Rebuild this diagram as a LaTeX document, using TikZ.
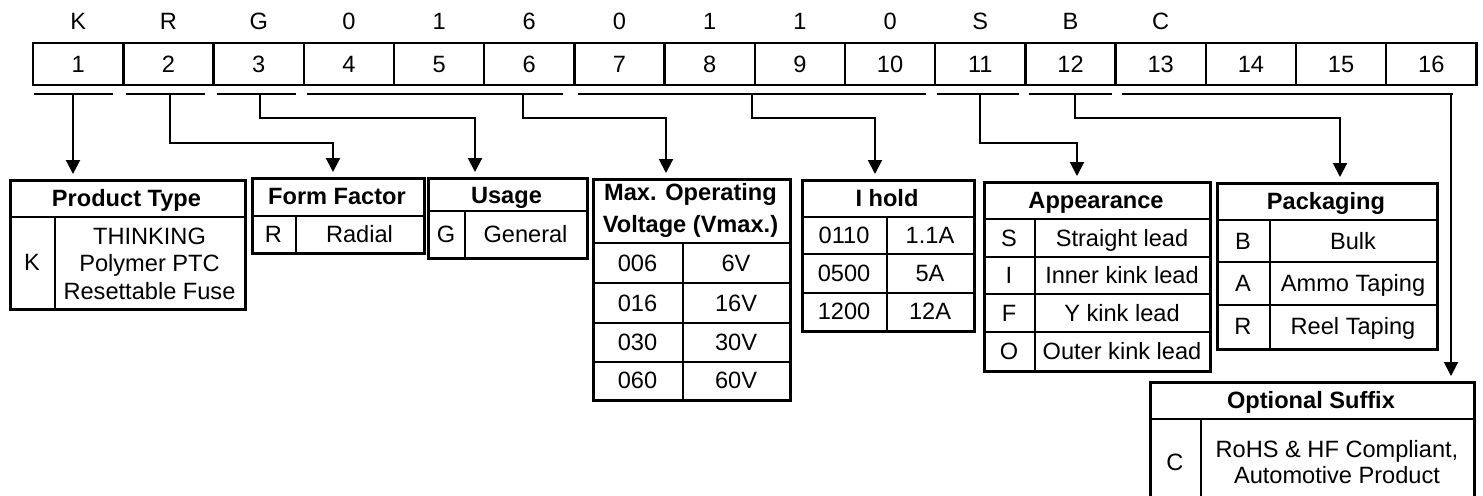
\documentclass[tikz,border=0pt]{standalone}
\usepackage{fontspec}
\setmainfont{Liberation Sans}
\usetikzlibrary{arrows.meta}
\begin{document}
\begin{tikzpicture}[x=0.5pt,y=-0.5pt,
  t/.style={font=\fontsize{11.8}{14}\selectfont,inner sep=0pt,text height=8.45pt,text depth=0pt},
  th/.style={t,font=\fontsize{11.8}{14}\selectfont\bfseries},
  cell/.style={t,draw,line width=1.2pt,minimum width=45.1pt,minimum height=21pt,anchor=north west},
  tbl/.style={draw,line width=1.4pt,inner sep=0pt,anchor=north west},
  grid/.style={line width=1pt},
  seg/.style={line width=1pt},
  conn/.style={line width=1pt},
  arr/.style={conn,-{Triangle[width=7pt,length=7pt]},shorten >=2.5pt}
]
\useasboundingbox (0,0) rectangle (1483,495);
\clip (0,0) rectangle (1483,495);

% top row
\foreach \i in {1,...,16} {
  \node[cell] (c\i) at ({32+90.2*(\i-1)},42) {\i};
}
\foreach \i/\l in {1/K,2/R,3/G,4/0,5/1,6/6,7/0,8/1,9/1,10/0,11/S,12/B,13/C} {
  \node[t] (l\i) at (c\i.center |- 0,21) {\l};
}

% underline segments
\draw[seg] (34,94) -- (113,94);
\draw[seg] (126,94) -- (205,94);
\draw[seg] (217,94) -- (296,94);
\draw[seg] (307,94) -- (563,94);
\draw[seg] (578,94) -- (926,94);
\draw[seg] (937,94) -- (1019,94);
\draw[seg] (1029,94) -- (1112,94);
\draw[seg] (1122,94) -- (1453,94);
\coordinate (u1) at (73,94);
\coordinate (u2) at (170,94);
\coordinate (u3) at (260,94);
\coordinate (u4) at (523,94);
\coordinate (u5) at (752,94);
\coordinate (u6) at (980,94);
\coordinate (u7) at (1075,94);
\coordinate (u8) at (1451,94);

% Product Type
\node[tbl,minimum width=117.5pt,minimum height=64.5pt] (pt) at (9,179) {};
\draw[grid] (9,217) -- (244,217);
\draw[grid] (55,217) -- (55,308);
\node[th] (pth) at (126.5,198) {Product Type};
\node[t] (ptk) at (32,262.5) {K};
\node[t] (pt1) at (149.5,236) {THINKING};
\node[t] (pt2) at (149.5,263.5) {Polymer PTC};
\node[t] (pt3) at (149.5,291) {Resettable Fuse};

% Form Factor
\node[tbl,minimum width=86pt,minimum height=37.5pt] (ff) at (251,177) {};
\draw[grid] (251,216) -- (423,216);
\draw[grid] (296,216) -- (296,252);
\node[th] (ffh) at (337,196.5) {Form Factor};
\node[t] (ffr) at (273.5,234) {R};
\node[t] (ffr2) at (359.5,234) {Radial};

% Usage
\node[tbl,minimum width=79.5pt,minimum height=40pt] (us) at (427,177) {};
\draw[grid] (427,211) -- (586,211);
\draw[grid] (465,211) -- (465,257);
\node[th] (ush) at (506.5,195) {Usage};
\node[t] (usg) at (446,234) {G};
\node[t] (usg2) at (525.5,234) {General};

% Max operating voltage
\node[tbl,minimum width=98.5pt,minimum height=110.5pt] (mv) at (592,178) {};
\foreach \y in {243,283,323,362} { \draw[grid] (592,\y) -- (789,\y); }
\draw[grid] (683,243) -- (683,399);
\node[th] (mvh1) at (690.5,192) {Max. Operating};
\node[th] (mvh2) at (690.5,224) {Voltage (Vmax.)};
\foreach \y/\a/\b [count=\k] in {263/006/6V,303/016/16V,342.5/030/30V,380.5/060/60V} {
  \node[t] (mva\k) at (637.5,\y) {\a};
  \node[t] (mvb\k) at (736,\y) {\b};
}

% I hold
\node[tbl,minimum width=86pt,minimum height=75.5pt] (ih) at (801,179) {};
\foreach \y in {217,254,293} { \draw[grid] (801,\y) -- (973,\y); }
\draw[grid] (887,217) -- (887,330);
\node[th] (ihh) at (887,198) {I hold};
\foreach \y/\a/\b [count=\k] in {235.5/0110/1.1A,273.5/0500/5A,311.5/1200/12A} {
  \node[t] (iha\k) at (844,\y) {\a};
  \node[t] (ihb\k) at (930,\y) {\b};
}

% Appearance
\node[tbl,minimum width=113pt,minimum height=94.5pt] (ap) at (983,181) {};
\foreach \y in {219,257,294,332} { \draw[grid] (983,\y) -- (1209,\y); }
\draw[grid] (1035,219) -- (1035,370);
\node[th] (aph) at (1096,200) {Appearance};
\foreach \y/\a/\b [count=\k] in {238/S/Straight lead,275.5/I/Inner kink lead,313/F/Y kink lead,351/O/Outer kink lead} {
  \node[t] (apa\k) at (1009,\y) {\a};
  \node[t] (apb\k) at (1122,\y) {\b};
}

% Packaging
\node[tbl,minimum width=110pt,minimum height=83pt] (pk) at (1216,182) {};
\foreach \y in {220,262,305} { \draw[grid] (1216,\y) -- (1436,\y); }
\draw[grid] (1270,220) -- (1270,348);
\node[th] (pkh) at (1326,201) {Packaging};
\foreach \y/\a/\b [count=\k] in {241/B/Bulk,283.5/A/Ammo Taping,326.5/R/Reel Taping} {
  \node[t] (pka\k) at (1243,\y) {\a};
  \node[t] (pkb\k) at (1353,\y) {\b};
}

% Optional Suffix
\node[tbl,minimum width=162pt,minimum height=60pt] (os) at (1149,381) {};
\draw[grid] (1149,419) -- (1473,419);
\draw[grid] (1201,419) -- (1201,505);
\node[th] (osh) at (1311,400) {Optional Suffix};
\node[t] (osc) at (1175,462) {C};
\node[t] (os1) at (1337,449) {RoHS \& HF Compliant,};
\node[t] (os2) at (1337,475) {Automotive Product};

% connectors
\draw[arr] (u1) -- (u1 |- pt.north);
\draw[arr] (u2) -- ++(0,49) -| ([xshift=41pt]ff.north west);
\draw[arr] (u3) -- ++(0,24) -| ([xshift=24pt]us.north west);
\draw[arr] (u4) -- ++(0,24) -| ([xshift=37pt]mv.north west);
\draw[arr] (u5) -- ++(0,24) -| ([xshift=37pt]ih.north west);
\draw[arr] (u6) -- ++(0,49) -| ([xshift=47pt]ap.north west);
\draw[arr] (u7) -- ++(0,24) -| ([xshift=62pt]pk.north west);
\draw[arr] (u8) -- (u8 |- os.north);
\end{tikzpicture}
\end{document}
